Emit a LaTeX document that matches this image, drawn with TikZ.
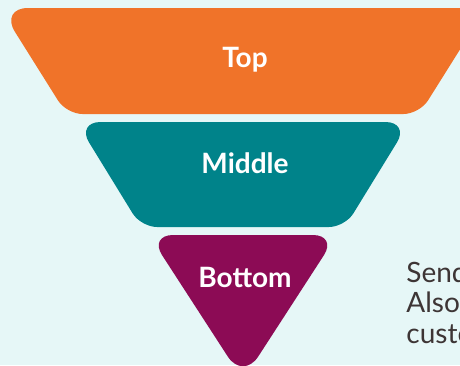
\documentclass[tikz,border=0pt]{standalone}
\usepackage{fontspec}
\setmainfont{Lato}
\usetikzlibrary{positioning}
\definecolor{funnelbg}{HTML}{E6F7F7}
\definecolor{toporange}{HTML}{F07329}
\definecolor{midteal}{HTML}{00838A}
\definecolor{botplum}{HTML}{8C0B55}
\definecolor{bodytext}{HTML}{3D3535}
\tikzset{
  every picture/.append style={line join=round, line cap=round},
  stage/.style={text=white, font=\fontsize{14}{15}\selectfont\bfseries, anchor=base},
  note/.style={text=bodytext, font=\fontsize{14}{15.25}\selectfont, anchor=base west, align=left, inner sep=0pt}
}

\begin{document}
\begin{tikzpicture}[x=0.5pt,y=-0.5pt]
    \fill [funnelbg] (0,0) rectangle (460,365);
    \clip (0,0) rectangle (460,365);
    % three funnel stages, sides at the same slope
    \fill [toporange] (243,8) [rounded corners=14pt] -- (486,8) [rounded corners=8pt] -- (419.5,114) -- (66.5,114) [rounded corners=14pt] -- (0,8) -- cycle;
    \fill [midteal] (243,122) [rounded corners=12pt] -- (409.5,122) [rounded corners=8pt] -- (345,227) -- (141,227) [rounded corners=12pt] -- (76.5,122) -- cycle;
    \fill [botplum] (243,235) [rounded corners=12pt] -- (337,235) [rounded corners=14pt] -- (243,380) [rounded corners=12pt] -- (149,235) -- cycle;
    \node [stage] (top) at (245,67) {Top};
    \node [stage] (middle) at (245,173) {Middle};
    \node [stage] (bottom) at (245,287) {Bottom};
    % base of a multi-line node sits on its last line
    \node [note] (send) at (406,343) {Send\\Also\\custo};
\end{tikzpicture}
\end{document}
